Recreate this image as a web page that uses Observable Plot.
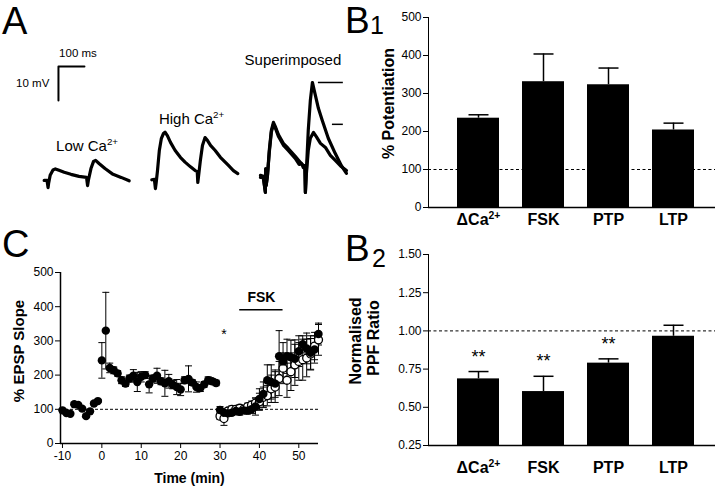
<!DOCTYPE html>
<html><head><meta charset="utf-8">
<script src="https://cdn.jsdelivr.net/npm/d3@7"></script>
<script src="https://cdn.jsdelivr.net/npm/@observablehq/plot@0.6"></script>
<style>
body{margin:0;background:#fff;}
#fig{position:relative;width:720px;height:490px;overflow:hidden;background:#fff;}
</style></head><body><div id="fig"></div>
<script>
// ---------- Panel A: example traces (time in ms from first stimulus, mV from baseline) ----------
const lowCaTrace = [[-15,0],[-4,0],[0,-2.1],[2,-0.9],[8,1.5],[19,3.1],[28,3.4],[42,3.0],[62,2.4],[88,1.8],[119,1.2],[148,0.9],[152,-1.5],[155,0],[165,3.5],[175,5.6],[183,5.9],[196,5.0],[219,3.5],[250,1.8],[281,0.9],[312,-0.1]];
const highCaTrace = [[-14,0.2],[-4,0.3],[0,-2.4],[3,-0.6],[8,2.9],[15,8.8],[23,12.4],[31,13.8],[37,14.2],[46,13.2],[58,11.2],[76,8.8],[96,6.8],[114,5.4],[135,4.0],[153,2.9],[161,2.6],[163,-0.6],[165,0.6],[173,5.9],[181,10.3],[191,12.6],[200,11.8],[212,10.3],[230,8.8],[250,6.8],[281,4.4],[300,2.9],[317,2.0]];
const superTraceLarge = [[-19,1.5],[-8,1.2],[0,-3.5],[1,3.5],[3,-1.5],[8,1.5],[15,8.8],[23,14.7],[31,17.1],[38,15.9],[50,13.5],[69,10.9],[88,9.4],[115,7.1],[135,5.3],[146,4.4],[152,4.4],[154,-3.5],[157,1.5],[165,14.7],[173,23.5],[181,28.8],[188,26.5],[204,21.2],[219,17.6],[242,12.4],[269,7.9],[292,4.4],[312,2.1]];
const superTraceSmall = [[-19,0.9],[-8,0.8],[0,-3.5],[1,3.0],[3,-1.5],[8,1.2],[15,8.2],[23,14.2],[31,16.5],[38,15.5],[50,13.0],[69,10.4],[88,8.8],[115,6.5],[130,4.7],[140,4.9],[146,3.8],[152,4.0],[154,-3.5],[157,1.2],[165,8.8],[173,12.4],[185,14.1],[196,12.9],[212,10.9],[231,9.7],[250,7.4],[269,5.9],[292,4.1],[312,2.9]];
const traceLabels = ["Low Ca2+", "High Ca2+", "Superimposed"];
const scaleBarMs = 100, scaleBarMv = 10;

// ---------- Panel B1 / B2 ----------
const conditions = ["ΔCa2+", "FSK", "PTP", "LTP"];
const potentiation = [235, 331, 323, 204];
const potentiationSem = [9, 73, 44, 18];
const ppfRatio = [0.686, 0.603, 0.789, 0.965];
const ppfSem = [0.048, 0.100, 0.028, 0.072];
const ppfSignificance = ["**", "**", "**", ""];

// ---------- Panel C: time course ----------
const timeBefore = [-10,-9,-8,-7,-6,-5,-4,-3,-2,-1,0,1,2,3,4,5,6,7,8,9,10,11,12,13,14,15,16,17,18,19,20,21,22,23,24,25,26,27,28,29];
const slopeBefore = [97,89,87,115,113,102,80,94,117,124,243,330,221,214,205,185,175,190,198,180,195,200,173,190,198,182,176,182,172,165,158,185,189,178,165,162,173,185,182,177];
const semBefore = [4,4,4,4,4,4,4,4,4,4,52,112,14,10,8,10,8,10,18,28,15,10,25,10,22,10,38,20,12,22,18,10,38,8,15,10,8,10,8,8];
const timeAfter = [30,31,32,33,34,35,36,37,38,39,40,41,42,43,44,45,46,47,48,49,50,51,52,53,54,55];
const slopeFilled = [98,90,88,90,95,93,97,96,100,108,130,145,185,180,175,255,240,255,252,248,270,290,278,265,275,320];
const semFilled = [10,10,8,8,8,10,10,10,12,25,30,35,45,50,40,75,55,50,50,55,45,25,45,50,40,32];
const slopeOpen = [80,73,95,100,100,103,100,108,112,118,122,135,140,160,165,190,220,185,210,230,240,245,250,262,285,303];
const semOpen = [10,20,8,10,10,10,10,10,12,15,25,30,30,40,45,50,45,50,55,60,55,60,55,45,40,45];
const fskStart = 35, fskEnd = 46;

// ---------- helpers ----------
const FONT = '"Liberation Sans", Arial, Helvetica, sans-serif';
const fig = document.getElementById("fig");
const baseStyle = {fontFamily: FONT, fontSize: "12px", color: "black", background: "transparent", overflow: "visible"};
const cap = {draw(context, size) { const r = Math.sqrt(size / Math.PI); context.moveTo(-r, 0); context.lineTo(r, 0); }};
function place(el, left, top) {
  el.style.position = "absolute"; el.style.left = left + "px"; el.style.top = top + "px";
  el.style.maxWidth = "none";
  fig.appendChild(el);
  d3.select(el).selectAll("text").each(function() {
    const m = this.textContent.match(/^(.*Ca)(2\+)$/);
    if (m && this.children.length === 0) {
      this.textContent = "";
      d3.select(this).append("tspan").text(m[1]);
      d3.select(this).append("tspan").attr("dy", "-0.55em").attr("font-size", "0.65em").text(m[2]);
    }
  });
  return el;
}
const yTitle = (s, dx, dy, size) => Plot.text([s], {text: d => d, frameAnchor: "left", textAnchor: "middle", lineAnchor: "middle", dx, dy, rotate: -90, fontWeight: "bold", fontSize: size});

// ---------- Panel A ----------
{
  const offs = {low: 183, high: 596, sup: 1019};
  const tr = (arr, off) => arr.map(([t, v]) => ({t: t + off, v}));
  const peakL = d3.max(superTraceLarge, d => d[1]);
  const peakS = d3.max(superTraceSmall, d => d[1]);
  const bar = [{t: 223, v: 23.5}, {t: 223, v: 23.5 + scaleBarMv}, {t: 223 + scaleBarMs, v: 23.5 + scaleBarMv}];
  const lw = {strokeWidth: 3.2, strokeLinejoin: "round", strokeLinecap: "round"};
  const svg = Plot.plot({
    width: 360, height: 215, margin: 0,
    x: {domain: [0, 1385], axis: null}, y: {domain: [-10.3, 52.9], axis: null},
    style: baseStyle,
    marks: [
      Plot.line(tr(lowCaTrace, offs.low), {x: "t", y: "v", ...lw}),
      Plot.line(tr(highCaTrace, offs.high), {x: "t", y: "v", ...lw}),
      Plot.line(tr(superTraceSmall, offs.sup), {x: "t", y: "v", ...lw}),
      Plot.line(tr(superTraceLarge, offs.sup), {x: "t", y: "v", ...lw}),
      Plot.ruleY([peakL], {x1: () => offs.sup + 204, x2: () => offs.sup + 300, strokeWidth: 1.5}),
      Plot.ruleY([peakS], {x1: () => offs.sup + 258, x2: () => offs.sup + 300, strokeWidth: 1.5}),
      Plot.line(bar, {x: "t", y: "v", strokeWidth: 2}),
      Plot.text([{t: 298, v: 36.2, s: scaleBarMs + " ms"}], {x: "t", y: "v", text: "s", lineAnchor: "bottom", fontSize: 11.5}),
      Plot.text([{t: 188, v: 28.5, s: scaleBarMv + " mV"}], {x: "t", y: "v", text: "s", textAnchor: "end", fontSize: 11.5}),
      Plot.text([{t: 333, v: 8.8, s: traceLabels[0]}, {t: 735, v: 16.7, s: traceLabels[1]}, {t: 1125, v: 33.8, s: traceLabels[2]}],
        {x: "t", y: "v", text: "s", lineAnchor: "bottom", fontSize: 15})
    ]
  });
  place(svg, 0, 0);
}

// ---------- Panel B1 ----------
{
  const b1 = conditions.map((c, i) => ({c, v: potentiation[i], e: potentiationSem[i]}));
  const svg = Plot.plot({
    width: 360, height: 240, marginLeft: 68, marginRight: 5, marginTop: 17, marginBottom: 33,
    x: {domain: conditions, paddingInner: 0.35, paddingOuter: 0.3, insetLeft: 7.35, axis: null},
    y: {domain: [0, 500], ticks: [0, 100, 200, 300, 400, 500], tickSize: 5, tickPadding: 2, label: null, line: true},
    style: baseStyle,
    marks: [
      Plot.ruleY([100], {strokeDasharray: "3,2.5", strokeWidth: 1}),
      Plot.ruleX(b1, {x: "c", y1: "v", y2: d => d.v + d.e, strokeWidth: 1.5}),
      Plot.dot(b1, {x: "c", y: d => d.v + d.e, symbol: cap, r: 10, stroke: "black", strokeWidth: 1.5}),
      Plot.barY(b1, {x: "c", y: "v", fill: "black"}),
      Plot.ruleY([0], {strokeWidth: 1.5}),
      Plot.text(b1, {x: "c", text: "c", frameAnchor: "bottom", dy: 17, lineAnchor: "bottom", fontWeight: "bold", fontSize: 16}),
      yTitle("% Potentiation", -40, -9, 16)
    ]
  });
  place(svg, 360, 0);
}

// ---------- Panel B2 ----------
{
  const b2 = conditions.map((c, i) => ({c, v: ppfRatio[i], e: ppfSem[i], s: ppfSignificance[i]}));
  const base = 0.25;
  const svg = Plot.plot({
    width: 360, height: 260, marginLeft: 68, marginRight: 5, marginTop: 24, marginBottom: 45,
    x: {domain: conditions, paddingInner: 0.35, paddingOuter: 0.3, insetLeft: 7.35, axis: null},
    y: {domain: [base, 1.5], ticks: [0.25, 0.5, 0.75, 1, 1.25, 1.5], tickFormat: d3.format(".2f"), tickSize: 5, tickPadding: 2, label: null, line: true},
    style: baseStyle,
    marks: [
      Plot.ruleY([1], {strokeDasharray: "3,2.5", strokeWidth: 1}),
      Plot.ruleX(b2, {x: "c", y1: "v", y2: d => d.v + d.e, strokeWidth: 1.5}),
      Plot.dot(b2, {x: "c", y: d => d.v + d.e, symbol: cap, r: 10, stroke: "black", strokeWidth: 1.5}),
      Plot.barY(b2, {x: "c", y1: () => base, y2: "v", fill: "black"}),
      Plot.ruleY([base], {strokeWidth: 1.5}),
      Plot.text(b2, {x: "c", y: d => d.v + d.e, text: "s", dy: -9, lineAnchor: "bottom", fontSize: 18}),
      Plot.text(b2, {x: "c", text: "c", frameAnchor: "bottom", dy: 27, lineAnchor: "bottom", fontWeight: "bold", fontSize: 16}),
      yTitle("PPF Ratio", -55, -12, 16),
      yTitle("Normalised", -73, -9, 16)
    ]
  });
  place(svg, 360, 230);
}

// ---------- Panel C ----------
{
  const before = timeBefore.map((t, i) => ({t, v: slopeBefore[i], e: semBefore[i]}));
  const filled = before.concat(timeAfter.map((t, i) => ({t, v: slopeFilled[i], e: semFilled[i]})));
  const open = timeAfter.map((t, i) => ({t, v: slopeOpen[i], e: semOpen[i]}));
  const errs = d => [
    Plot.ruleX(d, {x: "t", y1: r => r.v - r.e, y2: r => r.v + r.e, strokeWidth: 1}),
    Plot.dot(d, {x: "t", y: r => r.v + r.e, symbol: cap, r: 3.5, stroke: "black", strokeWidth: 1}),
    Plot.dot(d, {x: "t", y: r => r.v - r.e, symbol: cap, r: 3.5, stroke: "black", strokeWidth: 1})
  ];
  const svg = Plot.plot({
    width: 360, height: 270, marginLeft: 60, marginRight: 42, marginTop: 52, marginBottom: 47,
    x: {domain: [-10.5, 55]}, y: {domain: [0, 500]},
    style: baseStyle,
    marks: [
      Plot.ruleY([100], {strokeDasharray: "3,2", strokeWidth: 1}),
      ...errs(filled), ...errs(open),
      Plot.dot(open, {x: "t", y: "v", r: 4, fill: "white", stroke: "black", strokeWidth: 1.3}),
      Plot.dot(filled, {x: "t", y: "v", r: 4.2, fill: "black"}),
      Plot.ruleX([-10.5], {strokeWidth: 1.5}),
      Plot.ruleY([0], {strokeWidth: 1.5}),
      Plot.axisY({ticks: [0, 100, 200, 300, 400, 500], tickSize: 5, tickPadding: 2, label: null}),
      Plot.axisX({ticks: [-10, 0, 10, 20, 30, 40, 50], tickSize: 5, tickPadding: 3, tickFormat: d => String(d), label: null}),
      Plot.ruleY([391], {x1: () => fskStart, x2: () => fskEnd, strokeWidth: 1.5}),
      Plot.text([{t: (fskStart + fskEnd) / 2, v: 413, s: "FSK"}], {x: "t", y: "v", text: "s", lineAnchor: "bottom", fontWeight: "bold", fontSize: 14}),
      Plot.text([{t: 31, v: 307, s: "*"}], {x: "t", y: "v", text: "s", lineAnchor: "bottom", fontSize: 14}),
      Plot.text(["Time (min)"], {text: d => d, frameAnchor: "bottom", textAnchor: "middle", dy: 39, lineAnchor: "bottom", fontWeight: "bold", fontSize: 14}),
      yTitle("% EPSP Slope", -41, -7, 15)
    ]
  });
  place(svg, 0, 220);
}

// ---------- Panel letters ----------
{
  const ov = d3.create("svg").attr("width", 720).attr("height", 490)
    .style("position", "absolute").style("left", "0px").style("top", "0px")
    .style("font-family", FONT).style("pointer-events", "none");
  const L = [["A", 2, 34, 38], ["C", 2, 257, 38], ["B", 345, 33, 37], ["1", 370, 34, 25], ["B", 345, 261, 37], ["2", 372, 267, 25]];
  for (const [s, x, y, f] of L) ov.append("text").attr("x", x).attr("y", y).attr("font-size", f).text(s);
  fig.appendChild(ov.node());
}
</script></body></html>
